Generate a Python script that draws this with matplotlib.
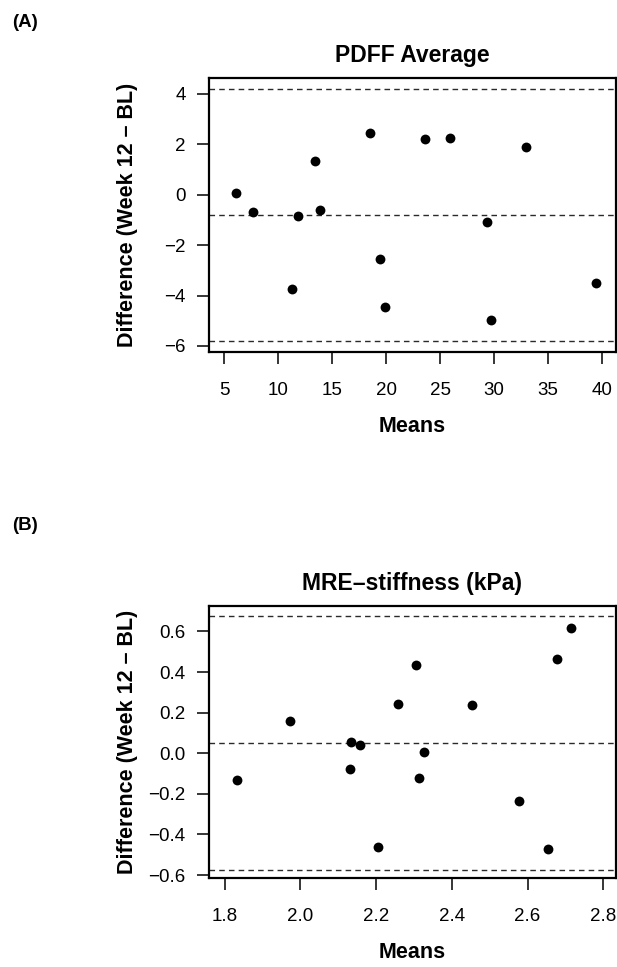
import matplotlib
matplotlib.use("Agg")
import matplotlib.pyplot as plt

plt.rcParams['font.family'] = ['Liberation Sans', 'DejaVu Sans']

# (A) PDFF average: Bland-Altman style values
pdff_means = [6.13, 7.71, 11.25, 11.80, 13.41, 13.85, 18.53, 19.41, 19.88,
              23.57, 25.95, 29.31, 29.68, 32.97, 39.44]
pdff_diffs = [0.07, -0.67, -3.73, -0.86, 1.35, -0.59, 2.44, -2.55, -4.45,
              2.23, 2.27, -1.08, -4.98, 1.90, -3.50]
pdff_lines = [4.20, -0.81, -5.81]   # upper LoA, mean diff, lower LoA
pdff_xticks = [5, 10, 15, 20, 25, 30, 35, 40]
pdff_yticks = [-6, -4, -2, 0, 2, 4]

# (B) MRE stiffness
mre_means = [1.831, 1.973, 2.130, 2.133, 2.156, 2.206, 2.257, 2.306, 2.313,
             2.326, 2.453, 2.578, 2.654, 2.677, 2.714]
mre_diffs = [-0.130, 0.158, -0.076, 0.053, 0.040, -0.463, 0.242, 0.434, -0.124,
             0.007, 0.236, -0.233, -0.473, 0.465, 0.619]
mre_lines = [0.677, 0.051, -0.574]
mre_xticks = [1.8, 2.0, 2.2, 2.4, 2.6, 2.8]
mre_yticks = [-0.6, -0.4, -0.2, 0.0, 0.2, 0.4, 0.6]

fig = plt.figure(figsize=(6.17, 9.67), dpi=100)
ax1 = fig.add_axes([0.3392, 0.6363, 0.6587, 0.2832])
ax2 = fig.add_axes([0.3392, 0.0917, 0.6587, 0.2816])


def ba_panel(ax, means, diffs, lines, xticks, yticks, xlim, ylim, title, fmt):
    ax.scatter(means, diffs, s=50, color='black', zorder=3, linewidths=0)
    for v in lines:
        ax.axhline(v, color='#2a2a2a', lw=1.0, ls=(0, (4.0, 3.0)), zorder=2)
    ax.set_xlim(*xlim)
    ax.set_ylim(*ylim)
    ax.set_xticks(xticks)
    ax.set_yticks(yticks)
    ax.set_xticklabels([fmt.format(t) for t in xticks])
    ax.set_yticklabels([fmt.format(t).replace('-', '\u2212') for t in yticks])
    for s in ax.spines.values():
        s.set_linewidth(1.6)
    ax.tick_params(axis='both', length=8.6, width=1.1, labelsize=13.5)
    ax.tick_params(axis='x', pad=13.0)
    ax.tick_params(axis='y', pad=8.5)
    ax.set_title(title, fontsize=16.5, fontweight='bold', pad=11.3)
    ax.set_xlabel('Means', fontsize=15.5, fontweight='bold')
    ax.xaxis.label.set_va('baseline')
    ax.xaxis.set_label_coords(0.5, -0.293)
    ax.set_ylabel('Difference (Week 12 \u2013 BL)', fontsize=15.5, fontweight='bold')
    ax.yaxis.label.set_va('baseline')
    ax.yaxis.set_label_coords(-0.187, 0.5)


ba_panel(ax1, pdff_means, pdff_diffs, pdff_lines, pdff_xticks, pdff_yticks,
         (3.63, 41.27), (-6.23, 4.64), 'PDFF Average', '{:g}')
ba_panel(ax2, mre_means, mre_diffs, mre_lines, mre_xticks, mre_yticks,
         (1.759, 2.833), (-0.616, 0.725), 'MRE\u2013stiffness (kPa)', '{:.1f}')

fig.text(12 / 617, 1 - 27 / 967, '(A)', fontsize=13.5, fontweight='bold', va='baseline')
fig.text(12 / 617, 1 - 530 / 967, '(B)', fontsize=13.5, fontweight='bold', va='baseline')

fig.savefig('out.png', dpi=100)
